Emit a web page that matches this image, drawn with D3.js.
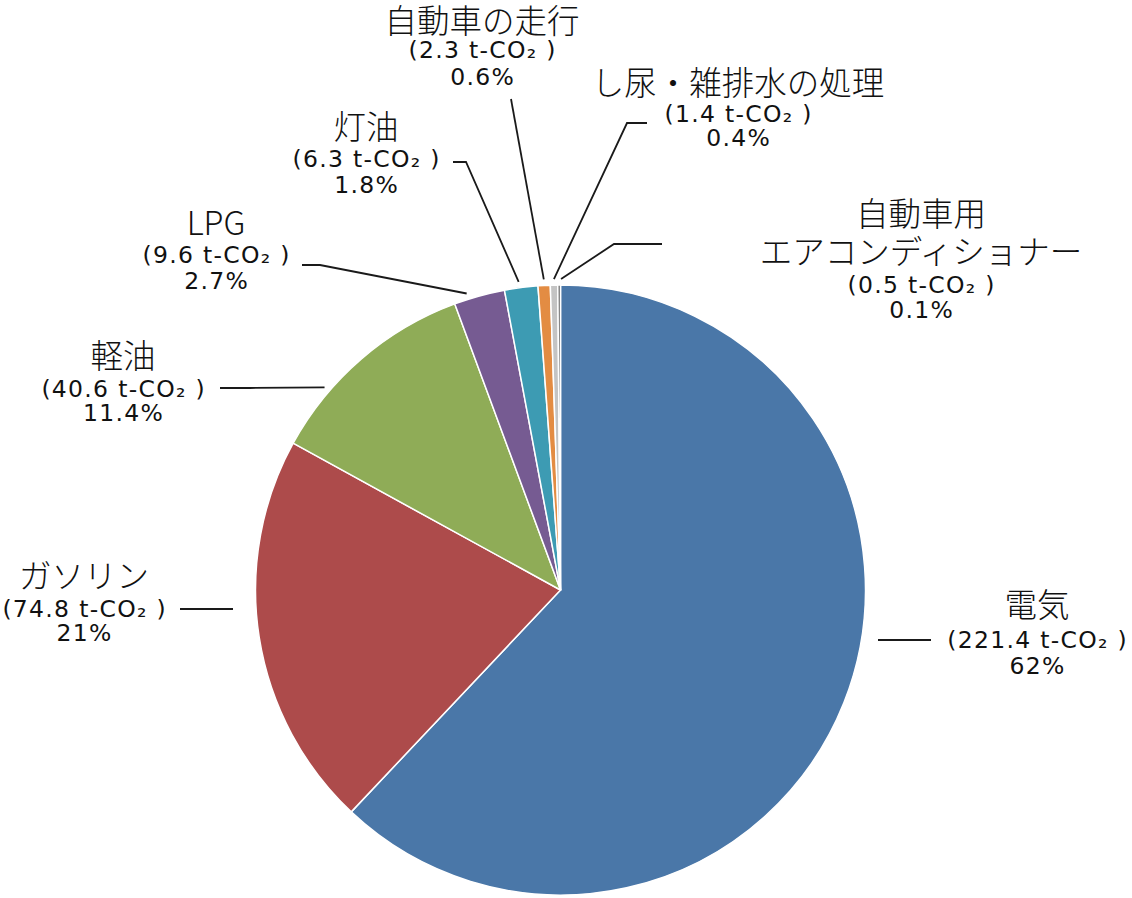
<!DOCTYPE html>
<html>
<head>
<meta charset="utf-8">
<script src="https://cdn.jsdelivr.net/npm/d3@7"></script>
<style>
  html, body { margin: 0; padding: 0; background: #ffffff; }
  svg { display: block; }
</style>
</head>
<body>
<svg id="chart" width="1132" height="898"></svg>
<script>
// ---- data ----
const categories = ["電気", "ガソリン", "軽油", "LPG", "灯油", "自動車の走行", "し尿・雑排水の処理", "自動車用\nエアコンディショナー"];
const values = [221.4, 74.8, 40.6, 9.6, 6.3, 2.3, 1.4, 0.5];
const percentLabels = ["62%", "21%", "11.4%", "2.7%", "1.8%", "0.6%", "0.4%", "0.1%"];
const colors = ["#4a77a8", "#ad4b4b", "#8fac57", "#765b92", "#3d9bb3", "#e38c43", "#c4c4c4", "#5f5f5f"];
const unit = "t-CO₂";

// ---- layout (label placement, not data) ----
const cx = 560.5, cy = 590, R = 305;
// x: block centre, ys: line centres [title lines..., amount, percent]
// lead: polyline start points; t: position within slice for the end point (null = no attachment)
const labelLayout = [
  { x: 1037, ys: [602, 640, 666], lead: [[878, 640], [931, 640]], t: null },
  { x: 84,   ys: [573, 609, 633], lead: [[180, 609], [233, 609]], t: null },
  { x: 123,  ys: [353, 389, 413], lead: [[220, 388], [250, 388]], t: 0.29 },
  { x: 216,  ys: [220, 255, 281], lead: [[302, 265], [320, 265]], t: 0.28 },
  { x: 366,  ys: [124, 159, 185], lead: [[453, 162], [466, 162]], t: 0.45 },
  { x: 482,  ys: [18, 50, 77],    lead: [[511, 99]], t: 0.5 },
  { x: 738,  ys: [80, 114, 138],  lead: [[647, 123], [627, 123]], t: 0.5 },
  { x: 921,  ys: [211, 249, 285, 310], lead: [[662, 244], [614, 244]], t: 1.2 }
];

const svg = d3.select("#chart");
const g = svg.append("g").attr("transform", `translate(${cx},${cy})`);

const pie = d3.pie().sort(null).value(d => d);
const arcs = pie(values);
const arc = d3.arc().innerRadius(0).outerRadius(R);

g.selectAll("path.slice")
  .data(arcs)
  .join("path")
  .attr("class", "slice")
  .attr("d", arc)
  .attr("fill", (d, i) => colors[i])
  .attr("stroke", "#ffffff")
  .attr("stroke-width", 1.5)
  .attr("stroke-linejoin", "round");

// leader lines
const line = d3.line();
arcs.forEach((a, i) => {
  const L = labelLayout[i];
  const pts = L.lead.map(p => p.slice());
  if (L.t !== null) {
    const ang = a.startAngle + (a.endAngle - a.startAngle) * L.t;
    const rr = R + 6;
    pts.push([cx + rr * Math.sin(ang), cy - rr * Math.cos(ang)]);
  }
  svg.append("path")
    .attr("d", line(pts))
    .attr("fill", "none")
    .attr("stroke", "#1a1a1a")
    .attr("stroke-width", 1.8);
});

// labels
const titleFont = "'Noto Sans CJK JP', 'Noto Sans', sans-serif";
const numFont = "'DejaVu Sans', 'Noto Sans', sans-serif";
arcs.forEach((a, i) => {
  const L = labelLayout[i];
  const titleLines = categories[i].split("\n");
  const rows = titleLines.map(t => ({ text: t, font: titleFont, size: 32.5, ls: 0, w: 300 }));
  rows.push({ text: `(${values[i]} ${unit} )`, font: numFont, size: 23.5, ls: 1.3, w: 400 });
  rows.push({ text: percentLabels[i], font: numFont, size: 23.5, ls: 1.3, w: 400 });
  rows.forEach((r, k) => {
    svg.append("text")
      .attr("x", L.x + r.ls / 2)
      .attr("y", L.ys[k])
      .attr("text-anchor", "middle")
      .attr("dominant-baseline", "central")
      .attr("font-family", r.font)
      .attr("font-size", r.size)
      .attr("font-weight", r.w)
      .attr("letter-spacing", r.ls)
      .attr("fill", "#111111")
      .text(r.text);
  });
});
</script>
</body>
</html>
